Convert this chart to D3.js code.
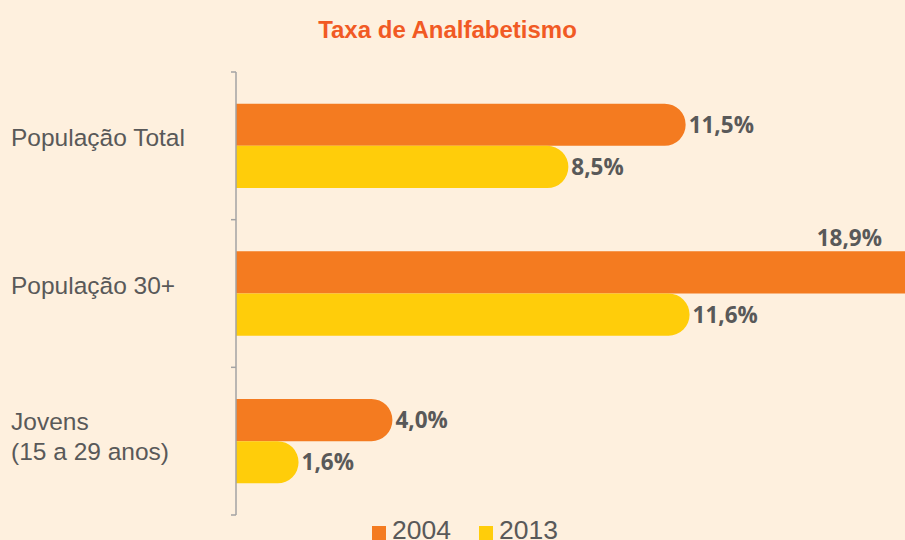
<!DOCTYPE html>
<html>
<head>
<meta charset="utf-8">
<script src="https://cdn.jsdelivr.net/npm/d3@7"></script>
<style>
  html, body { margin: 0; padding: 0; background: #FEF0DE; overflow: hidden; }
  svg { display: block; }
</style>
</head>
<body>
<svg id="chart" width="905" height="540"></svg>
<script>
const title = "Taxa de Analfabetismo";
const categories = ["População Total", "População 30+", "Jovens\n(15 a 29 anos)"];
const seriesNames = ["2004", "2013"];
const values2004 = [11.5, 18.9, 4.0];
const values2013 = [8.5, 11.6, 1.6];
const seriesColors = ["#F47B20", "#FFCD0A"];

const W = 905, H = 540;
const svg = d3.select("#chart");
svg.append("rect").attr("width", W).attr("height", H).attr("fill", "#FEF0DE");

const x = d3.scaleLinear().domain([0, 20]).range([236, 1018]);
const y0 = d3.scaleBand().domain(categories).range([72, 515]).paddingInner(0).paddingOuter(0);
const barGroupH = 84.4;
const y1 = d3.scaleBand().domain(seriesNames).range([0, barGroupH]);
const color = d3.scaleOrdinal().domain(seriesNames).range(seriesColors);

const rows = categories.map((c, i) => ({
  cat: c,
  vals: [{s: "2004", v: values2004[i]}, {s: "2013", v: values2013[i]}]
}));

// title
svg.append("text")
  .attr("x", 447.5).attr("y", 38.3)
  .attr("text-anchor", "middle")
  .attr("font-family", "Liberation Sans, Arial, sans-serif")
  .attr("font-weight", 700)
  .attr("font-size", 24)
  .attr("fill", "#F15A24")
  .text(title);

function barPath(x0, x1, yt, h) {
  const r = Math.min(h / 2, 21, Math.max(0, x1 - x0));
  return `M${x0},${yt} H${x1 - r} A${r},${r} 0 0 1 ${x1},${yt + r} V${yt + h - r} A${r},${r} 0 0 1 ${x1 - r},${yt + h} H${x0} Z`;
}

const g = svg.append("g");
rows.forEach(row => {
  const bandTop = y0(row.cat) + (y0.bandwidth() - barGroupH) / 2;
  row.vals.forEach(d => {
    const yt = bandTop + y1(d.s);
    const h = y1.bandwidth();
    g.append("path")
      .attr("d", barPath(x(0), x(d.v), yt, h))
      .attr("fill", color(d.s));
    const label = d3.format(".1f")(d.v).replace(".", ",") + "%";
    const t = g.append("text")
      .attr("font-family", "Open Sans, sans-serif")
      .attr("font-weight", 700)
      .attr("font-size", 22.5)
      .attr("fill", "#595959")
      .text(label);
    if (x(d.v) + 70 > W) {
      t.attr("x", 882).attr("y", yt - 5.5).attr("text-anchor", "end");
    } else {
      t.attr("x", x(d.v) + 3).attr("y", yt + h / 2).attr("dy", "0.36em");
    }
  });
});

// axis line with boundary ticks
const axisG = svg.append("g").attr("stroke", "#A3A3A3").attr("stroke-width", 1.5);
axisG.append("line").attr("x1", x(0)).attr("x2", x(0)).attr("y1", y0.range()[0]).attr("y2", y0.range()[1]);
const boundaries = categories.map(c => y0(c)).concat([y0.range()[1]]);
boundaries.forEach(b => {
  axisG.append("line").attr("x1", x(0) - 5).attr("x2", x(0)).attr("y1", b).attr("y2", b);
});

// category labels
rows.forEach(row => {
  const c = y0(row.cat) + y0.bandwidth() / 2;
  const lines = row.cat.split("\n");
  const t = svg.append("text")
    .attr("font-family", "Liberation Sans, Arial, sans-serif")
    .attr("font-size", 24.5)
    .attr("fill", "#595959");
  if (lines.length === 1) {
    t.append("tspan").attr("x", 11).attr("y", c).text(lines[0]);
  } else {
    lines.forEach((ln, i) => {
      t.append("tspan").attr("x", 11).attr("y", c - 11.5 + i * 30).text(ln);
    });
  }
});

// legend
const legendX = [372, 479];
seriesNames.forEach((s, i) => {
  svg.append("rect").attr("x", legendX[i]).attr("y", 526).attr("width", 14).attr("height", 14).attr("fill", color(s));
  svg.append("text")
    .attr("x", legendX[i] + 20).attr("y", 538.5)
    .attr("font-family", "Liberation Sans, Arial, sans-serif")
    .attr("font-size", 26.5)
    .attr("fill", "#595959")
    .text(s);
});
</script>
</body>
</html>
